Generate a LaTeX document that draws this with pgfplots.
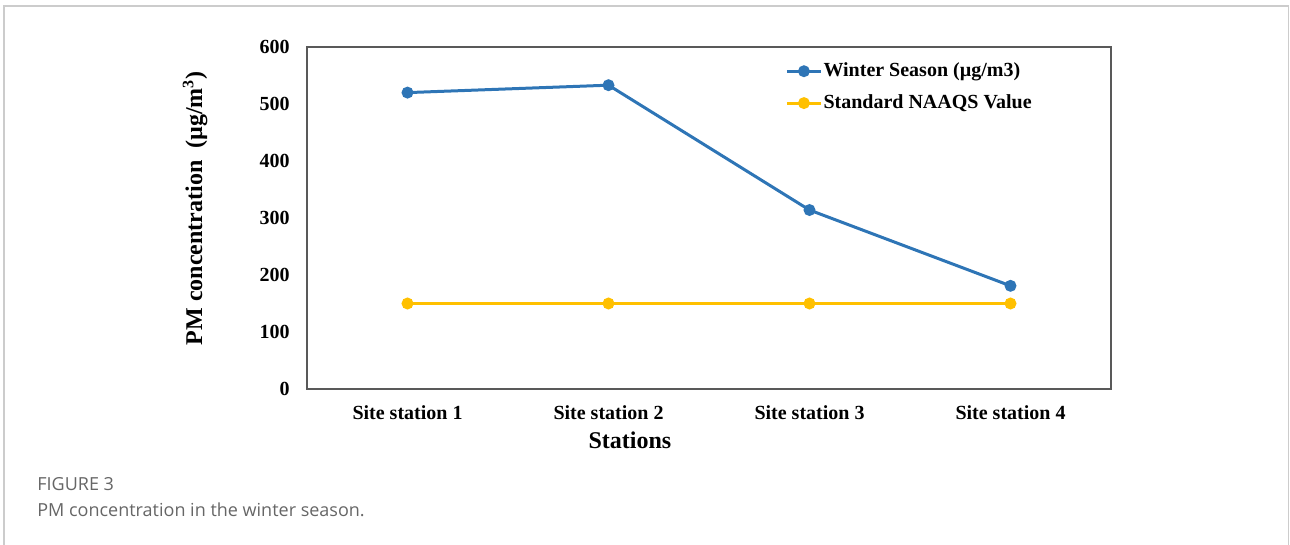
\documentclass[border=0pt]{standalone}
\usepackage{pgfplots}
\pgfplotsset{compat=1.18}
\usepackage{fontspec}
\setmainfont{Liberation Serif}
\newfontfamily\capfont{Open Sans}
\definecolor{wblue}{HTML}{2E75B6}
\definecolor{nyellow}{HTML}{FFC000}
\definecolor{capgray}{HTML}{666666}
\begin{document}
\begin{tikzpicture}
\path[use as bounding box] (0pt,0pt) rectangle (645pt,272.5pt);
\draw[black!20, line width=0.9pt] (2pt,0pt) -- (2pt,269.6pt) -- (644.2pt,269.6pt) -- (644.2pt,0pt);
\begin{axis}[
  at={(153.5pt,78pt)}, anchor=south west,
  scale only axis, width=402pt, height=171pt,
  xmin=0.5, xmax=4.5, ymin=0, ymax=600,
  xtick={1,2,3,4},
  xticklabels={Site station 1,Site station 2,Site station 3,Site station 4},
  ytick={0,100,200,300,400,500,600},
  major tick length=0pt,
  axis line style={draw=black!65, line width=0.6pt},
  /pgf/number format/assume math mode=true,
  tick label style={font=\bfseries\fontsize{10}{12}\selectfont, inner sep=0pt},
  xticklabel style={anchor=center, yshift=-12pt},
  yticklabel style={anchor=east, xshift=-8.5pt},
  xlabel={Stations},
  ylabel={PM concentration~~(µg/m\textsuperscript{3})},
  label style={font=\bfseries\fontsize{12}{14}\selectfont},
  xlabel style={at={(axis description cs:0.4017,0)}, anchor=center, yshift=-25.5pt},
  ylabel style={at={(axis description cs:-0.1393,0.529)}, anchor=center},
  legend style={at={(axis description cs:0.5945,0.958)}, anchor=north west,
    draw=none, fill=none, inner sep=0pt, row sep=6.5pt,
    font=\bfseries\fontsize{10}{12}\selectfont,
    nodes={inner sep=0.5pt}},
  legend cell align=left,
]
\addplot[wblue, line width=1.5pt, mark=*, mark size=2.2pt] coordinates {(1,520) (2,533) (3,314) (4,181)};
\addlegendentry{Winter Season (µg/m3)}
\addplot[nyellow, line width=1.5pt, mark=*, mark size=2.2pt] coordinates {(1,150) (2,150) (3,150) (4,150)};
\addlegendentry{Standard NAAQS Value}
\end{axis}
\node[anchor=base west, inner sep=0pt, text=capgray, font=\capfont\fontsize{9}{11}\selectfont] at (18.5pt,27pt) {FIGURE 3};
\node[anchor=base west, inner sep=0pt, text=capgray, font=\capfont\fontsize{9}{11}\selectfont] at (18.5pt,14pt) {PM concentration in the winter season.};
\end{tikzpicture}
\end{document}
